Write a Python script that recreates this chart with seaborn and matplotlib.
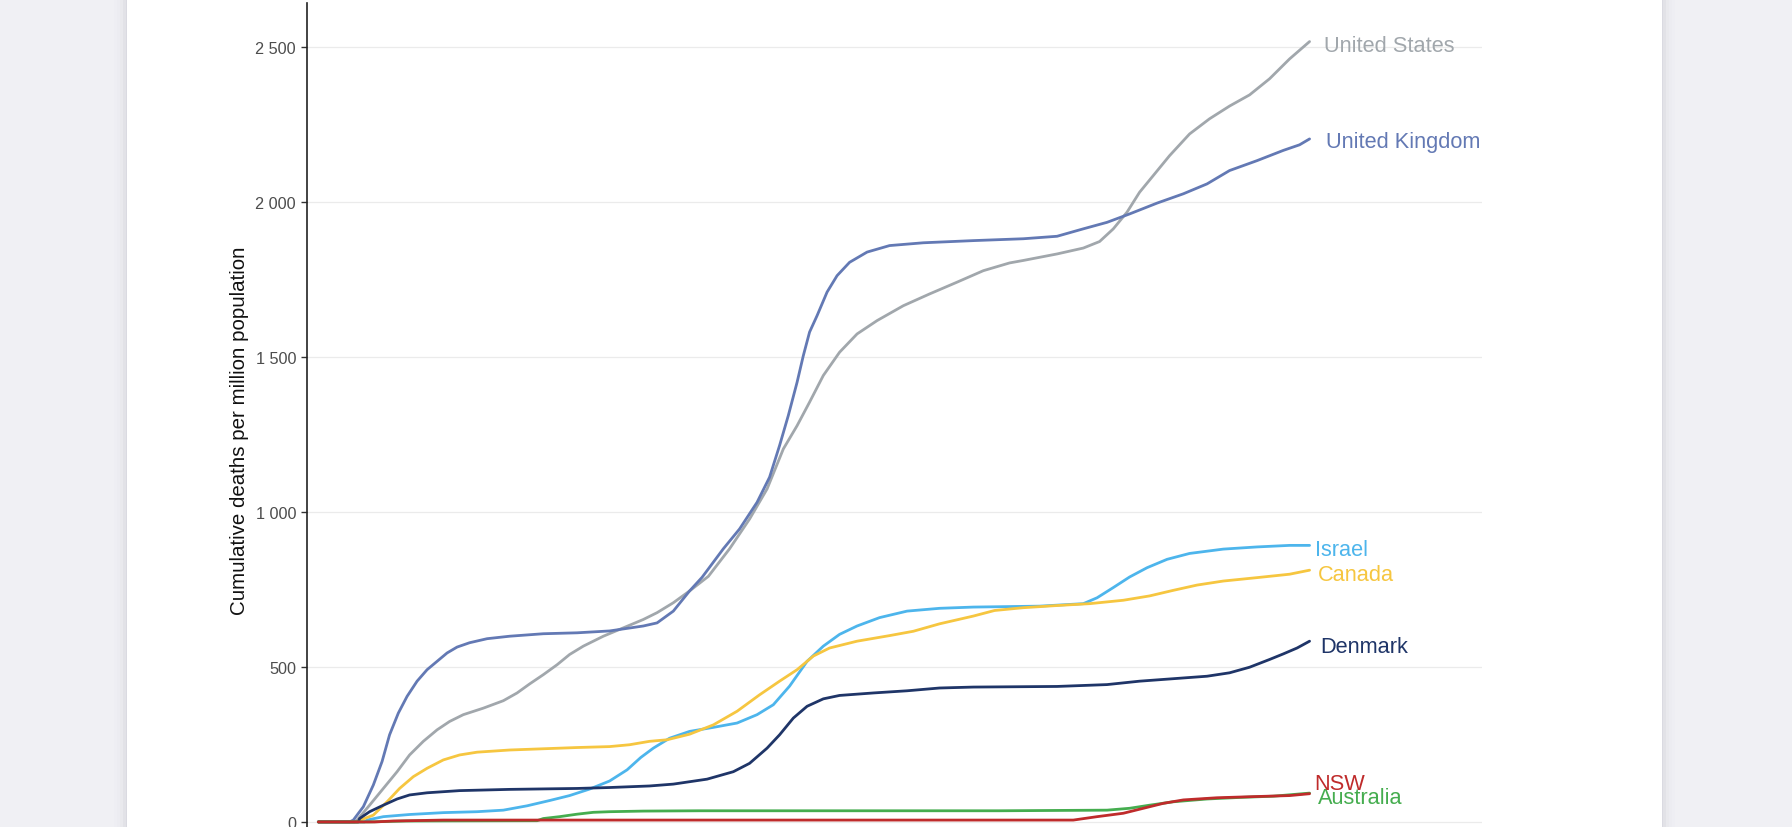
import numpy as np
import pandas as pd
import matplotlib
matplotlib.use("Agg")
import matplotlib.pyplot as plt
from matplotlib.patches import Rectangle
from matplotlib.ticker import FuncFormatter
import seaborn as sns

# cumulative deaths per million (x = days since start of series)
us_day = [0, 29, 31, 41, 52, 63, 73, 84, 95, 105, 116, 132, 148, 159, 169, 180, 191, 201, 212, 228,
          244, 260, 271, 284, 297, 312, 329, 345, 359, 372, 383, 393, 404, 417, 431, 447, 468, 489,
          511, 532, 553, 564, 591, 612, 625, 636, 647, 657, 668, 681, 697, 713, 729, 745, 761, 777, 793]
us_val = [0, 0, 6, 54, 108, 162, 216, 260, 297, 324, 346, 367, 391, 416, 445, 475, 507, 540, 567, 599,
          626, 653, 675, 707, 745, 792, 881, 977, 1074, 1203, 1278, 1354, 1440, 1515, 1574, 1617, 1665, 1703,
          1741, 1778, 1803, 1811, 1832, 1851, 1872, 1913, 1967, 2031, 2085, 2149, 2219, 2268, 2309, 2345,
          2397, 2461, 2517]

uk_day = [0, 25, 28, 36, 44, 51, 57, 64, 71, 79, 87, 95, 103, 111, 121, 135, 153, 180, 207, 233, 260,
          271, 284, 297, 307, 324, 337, 351, 361, 369, 376, 383, 388, 393, 399, 407, 415, 425, 439, 457,
          484, 524, 564, 591, 612, 631, 649, 671, 692, 711, 729, 751, 772, 785, 793]
uk_val = [0, 0, 6, 49, 119, 195, 281, 351, 405, 454, 491, 518, 545, 564, 578, 591, 599, 607, 610, 616,
          632, 642, 680, 745, 789, 881, 945, 1031, 1112, 1214, 1311, 1418, 1504, 1580, 1633, 1709, 1762,
          1805, 1838, 1859, 1868, 1875, 1881, 1889, 1913, 1934, 1961, 1996, 2026, 2058, 2101, 2133, 2166,
          2184, 2203]

israel_day = [0, 37, 39, 52, 73, 100, 127, 148, 167, 185, 201, 217, 233, 247, 258, 268, 281, 297, 316,
              335, 351, 364, 377, 391, 404, 417, 431, 449, 471, 497, 524, 577, 612, 623, 636, 649, 663,
              679, 697, 724, 751, 777, 793]
israel_val = [0, 0, 6, 17, 24, 30, 33, 38, 52, 69, 85, 106, 132, 168, 208, 238, 270, 292, 305, 319, 346,
              378, 438, 518, 567, 605, 632, 659, 680, 689, 693, 696, 704, 723, 756, 790, 820, 847, 866,
              880, 887, 892, 892]

canada_day = [0, 31, 33, 44, 55, 65, 76, 87, 100, 113, 127, 153, 180, 207, 233, 249, 265, 279, 297, 316,
              335, 353, 369, 383, 396, 409, 431, 457, 476, 497, 524, 541, 564, 591, 617, 644, 665, 684,
              703, 724, 751, 777, 793]
canada_val = [0, 0, 5, 22, 65, 108, 146, 173, 200, 216, 225, 232, 236, 240, 243, 249, 260, 265, 283, 313,
              357, 410, 454, 491, 535, 561, 583, 601, 615, 639, 664, 682, 691, 698, 704, 715, 729, 747,
              764, 777, 788, 799, 812]

denmark_day = [0, 32, 33, 41, 52, 63, 73, 87, 113, 153, 207, 233, 265, 284, 311, 332, 345, 359, 369, 380,
               391, 404, 417, 444, 471, 497, 524, 591, 631, 657, 684, 711, 729, 745, 761, 772, 783, 793]
denmark_val = [0, 0, 11, 33, 54, 74, 87, 94, 101, 105, 108, 111, 116, 122, 138, 162, 189, 238, 281, 335,
               373, 397, 408, 416, 423, 432, 435, 437, 443, 454, 462, 470, 481, 499, 524, 542, 561, 583]

australia_day = [0, 40, 70, 175, 180, 193, 207, 220, 233, 260, 305, 545, 631, 649, 665, 684, 711, 737,
                 764, 793]
australia_val = [0, 0, 3, 4, 11, 17, 25, 31, 33, 35, 36, 36, 38, 44, 54, 65, 74, 79, 83, 93]

nsw_day = [0, 45, 60, 100, 604, 623, 644, 660, 676, 692, 719, 751, 777, 793]
nsw_val = [0, 0, 3, 6, 6, 17, 28, 44, 60, 71, 78, 82, 85, 91]

countries = ["United States", "United Kingdom", "Israel", "Canada", "Denmark", "Australia", "NSW"]
series = {
    "United States": (us_day, us_val),
    "United Kingdom": (uk_day, uk_val),
    "Israel": (israel_day, israel_val),
    "Canada": (canada_day, canada_val),
    "Denmark": (denmark_day, denmark_val),
    "Australia": (australia_day, australia_val),
    "NSW": (nsw_day, nsw_val),
}
colors = {
    "United States": "#a1a7ac",
    "United Kingdom": "#6379b4",
    "Israel": "#4db5ec",
    "Canada": "#f6c640",
    "Denmark": "#1f3568",
    "Australia": "#45ad4f",
    "NSW": "#bf2b2b",
}
# label nudges in pixels (dx, dy)
nudge = {
    "United States": (14, -2),
    "United Kingdom": (16, 0),
    "Israel": (5, -2),
    "Canada": (8, -2),
    "Denmark": (11, -3),
    "NSW": (5, 13),
    "Australia": (8, -2),
}

rows = []
for c in countries:
    d, v = series[c]
    for a, b in zip(d, v):
        rows.append({"day": a, "deaths": b, "country": c})
df = pd.DataFrame(rows)

sns.set_style("white")
plt.rcParams["font.family"] = ["Liberation Sans", "DejaVu Sans"]

fig = plt.figure(figsize=(17.92, 8.28), dpi=100)
fig.patch.set_facecolor("#f0f0f4")

# white page panel with a soft shadow
W, H = 1792, 828
for i, a in enumerate([0.10, 0.07, 0.045, 0.025, 0.012]):
    fig.patches.append(Rectangle(((127 - 1 - i * 3) / W, 0), (1662 - 127 + 2 + i * 6) / W, 1,
                                 transform=fig.transFigure, facecolor="#9a9aa8", alpha=a,
                                 edgecolor="none", zorder=0))
fig.patches.append(Rectangle((127 / W, 0), (1662 - 127) / W, 1, transform=fig.transFigure,
                             facecolor="white", edgecolor="none", zorder=0))

ax = fig.add_axes([306.7 / W, (828 - 862) / H, 1175 / W, 858.5 / H])
ax.set_zorder(2)
ax.set_facecolor("none")

sns.lineplot(data=df, x="day", y="deaths", hue="country", hue_order=countries,
             palette=colors, linewidth=2.0, legend=False, ax=ax, estimator=None, sort=False)

ax.set_xlim(-9.3, 930.7)
ax.set_ylim(-126, 2643)
ax.set_yticks([0, 500, 1000, 1500, 2000, 2500])
ax.yaxis.set_major_formatter(FuncFormatter(lambda v, p: f"{int(v):,}".replace(",", " ")))
ax.yaxis.grid(True, color="#ebebeb", linewidth=0.9)
ax.xaxis.grid(False)
ax.set_axisbelow(True)
ax.set_xticks([])
ax.set_xlabel("")

for s in ["top", "right", "bottom"]:
    ax.spines[s].set_visible(False)
ax.spines["left"].set_color("#222222")
ax.spines["left"].set_linewidth(1.2)

ax.tick_params(axis="y", which="major", left=True, length=4.3, width=1.0, color="#333333",
               pad=3.4, labelsize=11.7, labelcolor="#4d4d4d")

ax.set_ylabel("Cumulative deaths per million population", fontsize=14.8, color="#111111",
              va="center")
ax.yaxis.set_label_coords(-0.0568, 0.502)

for c in countries:
    d, v = series[c]
    dx, dy = nudge[c]
    ax.annotate(c, xy=(d[-1], v[-1]), xytext=(dx, dy - 7.8), textcoords="offset pixels",
                ha="left", va="baseline", fontsize=15.7, color=colors[c], annotation_clip=False)

fig.savefig("out.png", dpi=100, facecolor=fig.get_facecolor())
